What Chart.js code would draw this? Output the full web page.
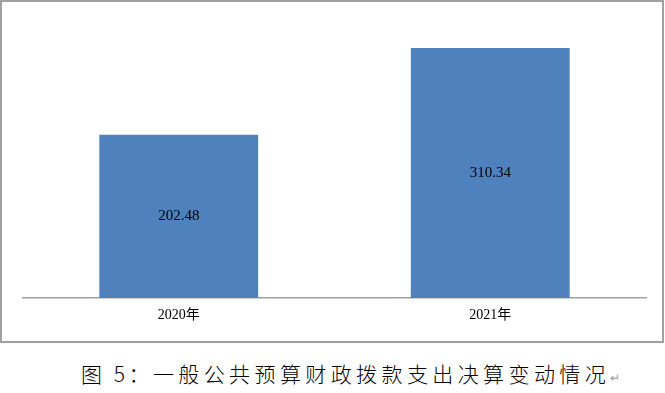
<!DOCTYPE html>
<html>
<head>
<meta charset="utf-8">
<script src="https://cdn.jsdelivr.net/npm/chart.js@4/dist/chart.umd.min.js"></script>
<style>
  html, body { margin: 0; padding: 0; background: #fff; width: 665px; height: 393px; overflow: hidden; }
  #box { position: absolute; left: 0; top: 0; width: 664px; height: 343px; box-sizing: border-box; border: 2px solid #a0a0a0; }
  #wrap { position: absolute; left: 0; top: 0; width: 665px; height: 345px; }
  #cap { position: absolute; left: 81px; top: 359px; font-family: "Noto Sans CJK SC", sans-serif; font-weight: 300; font-size: 21px; line-height: 28px; color: #000; white-space: nowrap; }
  #cap .a { letter-spacing: 3.5px; }
  #cap .b { letter-spacing: 4.4px; }
  #cap .pm { font-size: 12px; color: #999; letter-spacing: 0; }
</style>
</head>
<body>
<div id="box"></div>
<div id="wrap"><canvas id="c" width="665" height="345"></canvas></div>
<div id="cap"><span class="a">图 5：</span><span class="b">一般公共预算财政拨款支出决算变动情况</span><span class="pm">↵</span></div>
<script>
const categories = ["2020年", "2021年"];
const values = [202.48, 310.34];
const valueLabels = ["202.48", "310.34"];

const dataLabelPlugin = {
  id: 'dataLabels',
  afterDatasetsDraw(chart) {
    const ctx = chart.ctx;
    const meta = chart.getDatasetMeta(0);
    ctx.save();
    ctx.font = '15px "Liberation Serif", "Times New Roman", serif';
    ctx.fillStyle = '#000';
    ctx.textAlign = 'center';
    ctx.textBaseline = 'middle';
    meta.data.forEach((bar, i) => {
      const cy = (bar.y + bar.base) / 2;
      ctx.fillText(valueLabels[i], bar.x, cy);
    });
    ctx.restore();
  }
};

new Chart(document.getElementById('c'), {
  type: 'bar',
  data: {
    labels: categories,
    datasets: [{
      data: values,
      backgroundColor: '#4F81BD',
      borderWidth: 0,
      categoryPercentage: 1.0,
      barPercentage: 0.51
    }]
  },
  options: {
    responsive: false,
    animation: false,
    devicePixelRatio: 1,
    layout: { padding: { left: 23, right: 19, top: 16, bottom: 0 } },
    plugins: { legend: { display: false }, tooltip: { enabled: false } },
    scales: {
      x: {
        grid: { display: false, drawTicks: false },
        border: { display: true, color: '#a0a0a0', width: 1.5 },
        ticks: {
          color: '#000',
          padding: 9,
          font: { family: '"Liberation Serif", "Noto Sans CJK SC", serif', size: 14 }
        },
        afterFit(scale) { scale.height = 345 - 298; }
      },
      y: {
        display: false,
        min: 0,
        max: 350
      }
    }
  },
  plugins: [dataLabelPlugin]
});
</script>
</body>
</html>
